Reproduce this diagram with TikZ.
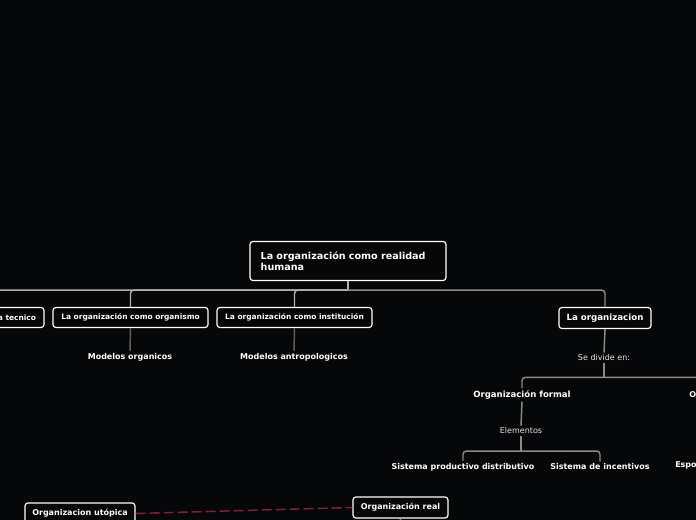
\documentclass[tikz,border=0pt]{standalone}
\usepackage{fontspec}
\setmainfont{DejaVu Sans}
\definecolor{bg}{HTML}{060709}
\definecolor{linelight}{HTML}{B0B0B0}
\definecolor{linemid}{HTML}{8A8A8A}
\definecolor{linedark}{HTML}{5E5E5E}
\definecolor{rel}{HTML}{8C1A40}
\definecolor{softwhite}{HTML}{E6E6E6}
\begin{document}
\begin{tikzpicture}[x=0.75pt,y=-0.75pt,
  box/.style={draw=white, line width=0.9pt, rounded corners=2.2pt, fill=bg, text=white, inner sep=0pt, font=\bfseries\fontsize{5.6}{6.5}\selectfont},
  lbl/.style={text=white, inner sep=1.5pt, font=\bfseries\fontsize{6}{7}\selectfont},
  lnk/.style={text=softwhite, inner sep=1.5pt, font=\fontsize{6}{7}\selectfont},
  conn/.style={line width=1.1pt, rounded corners=2.5pt},
  relline/.style={draw=rel, line width=1.1pt, dash pattern=on 7.5pt off 3pt}]
\fill[bg] (0,0) rectangle (696,520);
\useasboundingbox (0,0) rectangle (696,520);

% main nodes
\node[box, minimum width=147pt, minimum height=29.25pt, text width=131pt, align=left, font=\bfseries\fontsize{7.2}{8.3}\selectfont] (root) at (348,261) {La organización como realidad humana};
\node[box, minimum width=78pt, minimum height=15pt, text width=66pt, align=right] (tec) at (-8,317.5) {a tecnico};
\node[box, minimum width=116.25pt, minimum height=15pt] (orgm) at (130.5,317.5) {La organización como organismo};
\node[box, minimum width=116.25pt, minimum height=15pt] (inst) at (294.5,317.5) {La organización como institución};
\node[box, minimum width=69pt, minimum height=15.75pt, font=\bfseries\fontsize{6.5}{7.5}\selectfont] (org) at (605,318) {La organizacion};

\node[lbl] (morg) at (130,357) {Modelos organicos};
\node[lbl] (mant) at (294,357) {Modelos antropologicos};
\node[lnk] (div) at (604,358) {Se divide en:};
\node[lbl, font=\bfseries\fontsize{6.4}{7.5}\selectfont] (formal) at (522,395) {Organización formal};
\node[lbl, anchor=west, inner sep=0pt] (inf) at (689,395) {O};
\coordinate (infstem) at (740,388);
\node[lnk] (elem) at (521,431) {Elementos};
\node[lbl] (prod) at (463,467) {Sistema productivo distributivo};
\node[lbl] (inc) at (600,467) {Sistema de incentivos};
\node[lbl, anchor=west, inner sep=0pt] (esp) at (675,465) {Espo};

\node[box, minimum width=82.5pt, minimum height=15.75pt, font=\bfseries\fontsize{6.0}{7.5}\selectfont] (uto) at (80,513.5) {Organizacion utópica};
\node[box, minimum width=71.25pt, minimum height=15.75pt, font=\bfseries\fontsize{6.0}{7.5}\selectfont] (real) at (400.5,507.5) {Organización real};
\coordinate (realstem) at (400,530);

% connectors from root
\coordinate (rj) at ([yshift=-6.75pt]root.south);
\draw[conn, linelight] (root.south) -- (rj);
\draw[conn, linelight] (rj) -| (tec.north);
\draw[conn, linelight] (rj) -| (orgm.north);
\draw[conn, linelight] (rj) -| (inst.north);
\draw[conn, linemid] (rj) -| (org.north);

\draw[conn, linedark] (orgm.south) -- (morg.north);
\draw[conn, linedark] (inst.south) -- (mant.north);
\draw[conn, linemid] (org.south) -- (div.north);
\coordinate (dj) at ([yshift=-10.5pt]div.south);
\draw[conn, linemid] (div.south) -- (dj);
\draw[conn, linemid] (dj) -| (formal.north);
\draw[conn, linemid] (dj) -| (infstem);
\draw[conn, linemid] (formal.south) -- (elem.north);
\coordinate (ej) at ([yshift=-11pt]elem.south);
\draw[conn, linemid] (elem.south) -- (ej);
\draw[conn, linemid] (ej) -| (prod.north);
\draw[conn, linemid] (ej) -| (inc.north);
\draw[conn, linemid] (real.south) -- (realstem);

\draw[relline] (uto.east) -- (real.west);
\end{tikzpicture}
\end{document}
